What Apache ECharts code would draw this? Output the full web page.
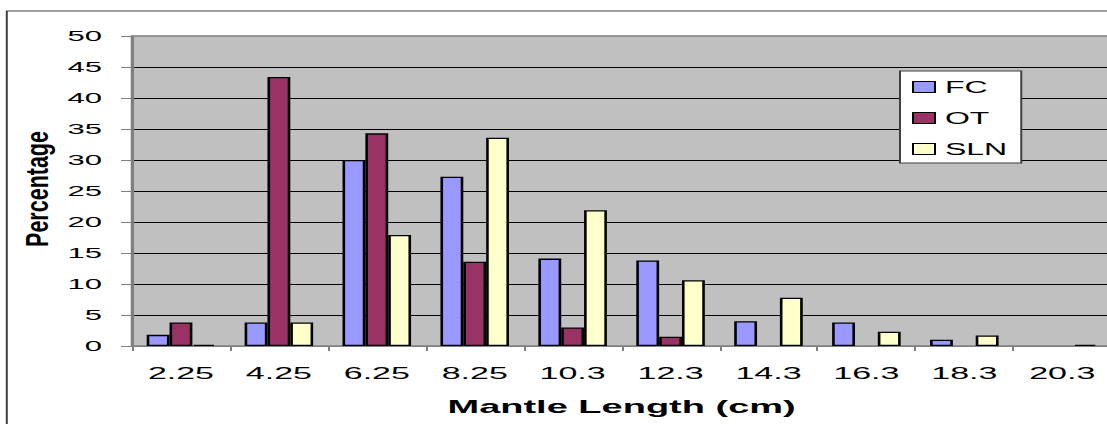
<!DOCTYPE html>
<html>
<head>
<meta charset="utf-8">
<script src="https://cdn.jsdelivr.net/npm/echarts@6/dist/echarts.min.js"></script>
<style>
    html, body { margin: 0; padding: 0; background: #fff; overflow: hidden; width: 1107px; height: 424px; }
    /* the source picture is an Excel chart stretched 2x sideways, so draw at half width and stretch */
    #chart { width: 560px; height: 424px; transform: scaleX(2); transform-origin: 0 0; }
</style>
</head>
<body>
<div id="chart"></div>
<script>
// 横轴类目 (Mantle Length, cm)
var categories = ['2.25', '4.25', '6.25', '8.25', '10.3', '12.3', '14.3', '16.3', '18.3', '20.3'];
// 各组百分比
var seriesNames = ['FC', 'OT', 'SLN'];
var fcData  = [1.8, 3.8, 30.0, 27.3, 14.1, 13.8, 4.0, 3.8, 1.0, 0];
var otData  = [3.8, 43.4, 34.3, 13.6, 3.0, 1.5, 0, 0, 0, 0];
var slnData = [0.2, 3.8, 17.9, 33.6, 21.9, 10.6, 7.8, 2.3, 1.7, 0.2];
var colors = ['#9999FF', '#993366', '#FFFFCC'];

var font = 'Liberation Sans';

function bar(name, data){
    return {
        name: name,
        type: 'bar',
        barGap: '0%',
        barCategoryGap: '30%',
        itemStyle: { borderColor: '#000', borderWidth: 1.3 },
        // zero bars are not drawn in the original
        data: data.map(function (v) { return v === 0 ? null : v; })
    };
}

var option = {
    animation: false,
    color: colors,
    graphic: [
        {   // outer chart frame
            type: 'rect',
            shape: { x: 3.4, y: 11, width: 620, height: 500 },
            style: { fill: 'none', stroke: '#404040', lineWidth: 1 },
            silent: true
        },
        {   // y axis title, Excel draws it condensed
            type: 'text',
            x: 18.5, y: 189,
            rotation: Math.PI / 2,
            scaleX: 1.0, scaleY: 0.73,
            style: {
                text: 'Percentage',
                font: 'bold 21.5px "Liberation Sans"',
                fill: '#000',
                align: 'center',
                verticalAlign: 'middle'
            },
            silent: true
        }
    ],
    legend: {
        orient: 'vertical',
        left: 450,
        top: 71,
        data: seriesNames,
        icon: 'rect',
        itemWidth: 11,
        itemHeight: 11,
        itemGap: 15,
        padding: [8, 7, 6, 6],
        backgroundColor: '#fff',
        borderColor: '#404040',
        borderWidth: 1,
        borderRadius: 0,
        itemStyle: { borderColor: '#000', borderWidth: 1 },
        textStyle: { fontFamily: font, fontSize: 16, color: '#000' }
    },
    grid: {
        show: true,
        left: 66,
        top: 36,
        width: 489.6,
        height: 310,
        backgroundColor: '#C0C0C0',
        borderColor: '#808080',
        borderWidth: 1.3
    },
    xAxis: {
        type: 'category',
        data: categories,
        name: 'Mantle Length (cm)',
        nameLocation: 'middle',
        nameGap: 51,
        nameTextStyle: { fontFamily: font, fontSize: 19, fontWeight: 'bold', color: '#000' },
        axisLine: { lineStyle: { color: '#808080', width: 1 } },
        axisTick: { show: true, length: 5, lineStyle: { color: '#808080' } },
        axisLabel: { fontFamily: font, fontSize: 17, color: '#000', margin: 19 }
    },
    yAxis: {
        type: 'value',
        min: 0,
        max: 50,
        interval: 5,
        axisLine: { show: true, lineStyle: { color: '#808080', width: 1 } },
        axisTick: { show: true, length: 5.5, lineStyle: { color: '#808080' } },
        axisLabel: { fontFamily: font, fontSize: 15.5, color: '#000', margin: 15 },
        splitLine: { show: true, showMinLine: false, showMaxLine: false, lineStyle: { color: '#000', width: 1 } }
    },
    series: [
        bar(seriesNames[0], fcData),
        bar(seriesNames[1], otData),
        bar(seriesNames[2], slnData)
    ]
};

var chart = echarts.init(document.getElementById('chart'), null, { renderer: 'svg' });
chart.setOption(option, true);
</script>
</body>
</html>
